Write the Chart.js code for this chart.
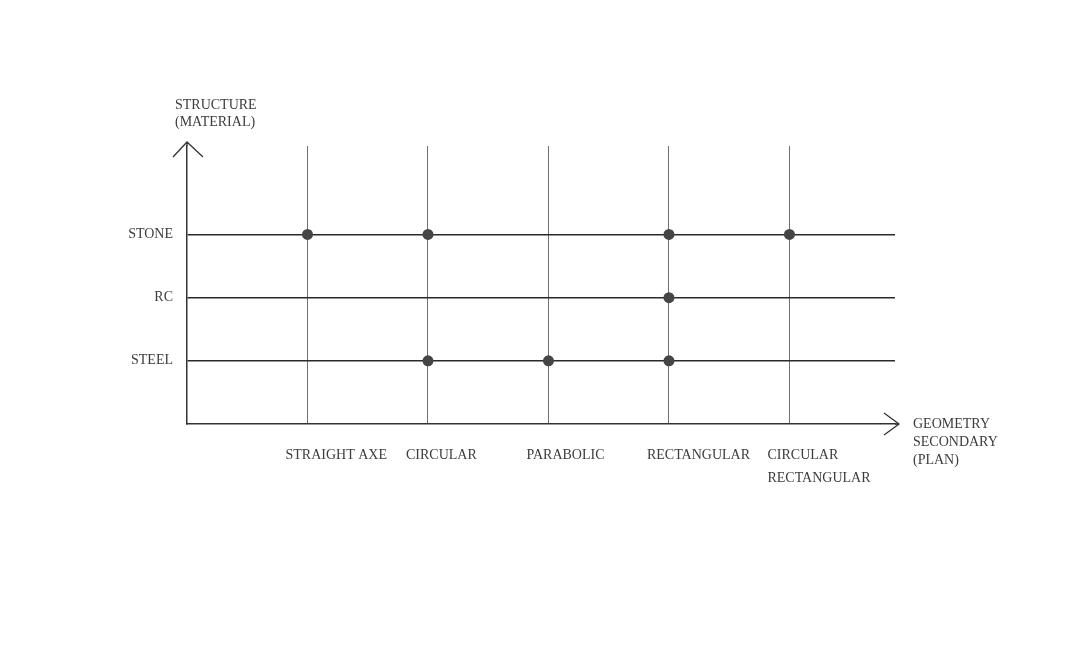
<!DOCTYPE html>
<html>
<head>
<meta charset="utf-8">
<script src="https://cdn.jsdelivr.net/npm/chart.js@4.4.1/dist/chart.umd.min.js"></script>
<style>
  html, body { margin: 0; padding: 0; background: #fff; }
  #wrap { width: 1083px; height: 652px; position: relative; }
</style>
</head>
<body>
<div id="wrap"><canvas id="matrix"></canvas></div>
<script>
/* Geometry x Material matrix */
var categories = ['STRAIGHT AXE', 'CIRCULAR', 'PARABOLIC', 'RECTANGULAR', ['CIRCULAR', 'RECTANGULAR']];
var materials = ['STEEL', 'RC', 'STONE'];          // bottom to top
var stoneUsed = [1, 1, 0, 1, 1];
var rcUsed    = [0, 0, 0, 1, 0];
var steelUsed = [0, 1, 1, 1, 0];
var yTitle = ['STRUCTURE', '(MATERIAL)'];
var xTitle = ['GEOMETRY', 'SECONDARY', '(PLAN)'];

var FONT = "'Liberation Serif', 'DejaVu Serif', serif";
var TEXT = '#3c3c3c';

function toPoints(flags, level) {
    var pts = [];
    flags.forEach(function (f, i) {
        if (f) pts.push({ x: i + 1, y: level });
    });
    return pts;
}
var points = [].concat(
    toPoints(steelUsed, 1),
    toPoints(rcUsed, 2),
    toPoints(stoneUsed, 3)
);

// arrows, axis titles and category labels
var decorPlugin = {
    id: 'decor',
    afterDraw: function (chart) {
        var c = chart.ctx;
        var a = chart.chartArea;
        var xs = chart.scales.x;
        c.save();
        c.strokeStyle = '#333';
        c.lineWidth = 1.3;
        // y arrow
        c.beginPath();
        c.moveTo(a.left, a.top);
        c.lineTo(a.left, a.top - 4);
        c.moveTo(a.left - 14, a.top + 11);
        c.lineTo(a.left, a.top - 4);
        c.lineTo(a.left + 16, a.top + 11);
        c.stroke();
        // x arrow
        c.beginPath();
        c.moveTo(a.right, a.bottom);
        c.lineTo(a.right + 4, a.bottom);
        c.moveTo(a.right - 11, a.bottom - 11);
        c.lineTo(a.right + 4, a.bottom);
        c.lineTo(a.right - 11, a.bottom + 11);
        c.stroke();

        c.fillStyle = TEXT;
        c.font = '14px ' + FONT;
        c.textAlign = 'left';
        c.textBaseline = 'middle';
        yTitle.forEach(function (t, i) {
            c.fillText(t, a.left - 12, a.top - 41 + i * 17);
        });
        xTitle.forEach(function (t, i) {
            c.fillText(t, a.right + 18, a.bottom + i * 18);
        });
        categories.forEach(function (lab, i) {
            var lines = Array.isArray(lab) ? lab : [lab];
            var px = xs.getPixelForValue(i + 1) - 22;
            lines.forEach(function (t, j) {
                c.fillText(t, px, a.bottom + 31 + j * 23);
            });
        });
        c.restore();
    }
};

new Chart(document.getElementById('matrix'), {
    type: 'scatter',
    data: {
        datasets: [{
            data: points,
            pointRadius: 5.5,
            pointHoverRadius: 5.5,
            pointBackgroundColor: '#454545',
            pointBorderWidth: 0
        }]
    },
    options: {
        responsive: true,
        maintainAspectRatio: false,
        animation: false,
        layout: { padding: { top: 146, right: 188, left: 0, bottom: 0 } },
        plugins: { legend: { display: false }, tooltip: { enabled: false } },
        scales: {
            x: {
                type: 'linear',
                min: 0,
                max: 5.876,
                afterBuildTicks: function (s) {
                    s.ticks = categories.map(function (c, i) { return { value: i + 1 }; });
                },
                afterFit: function (s) { s.height = 228; },
                ticks: { display: false },
                grid: { color: '#707070', lineWidth: 1, drawTicks: false },
                border: { display: true, color: '#333', width: 1.5 }
            },
            y: {
                type: 'linear',
                min: 0,
                max: 4.4,
                afterBuildTicks: function (s) {
                    s.ticks = materials.map(function (m, i) { return { value: i + 1 }; });
                },
                afterFit: function (s) { s.width = 187; },
                ticks: {
                    padding: 14,
                    color: TEXT,
                    font: { family: FONT, size: 14 },
                    callback: function (v) { return materials[v - 1]; }
                },
                grid: { color: '#2a2a2a', lineWidth: 1.5, drawTicks: false },
                border: { display: true, color: '#333', width: 1.5 }
            }
        }
    },
    plugins: [decorPlugin]
});
</script>
</body>
</html>
